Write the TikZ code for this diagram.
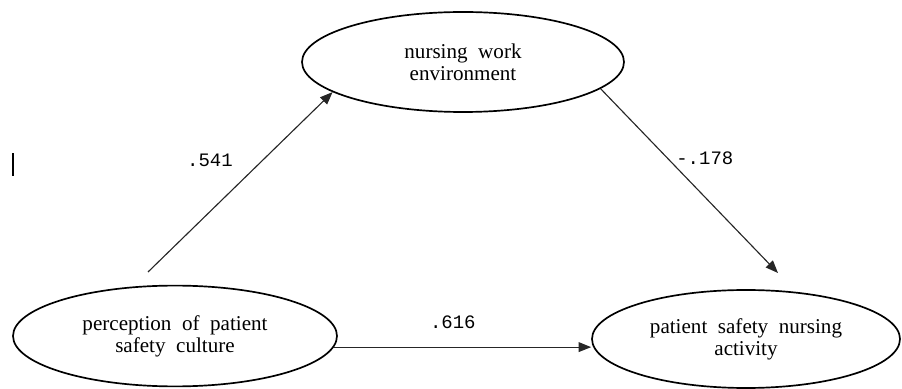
\documentclass[tikz,border=0pt]{standalone}
\usepackage{fontspec}
\setmainfont{Liberation Serif}
\newfontfamily\numfont{Liberation Mono}
\usepackage{tikz}
\usetikzlibrary{shapes,arrows.meta}
\def\coef#1#2#3{\node[coef] (#1) at (#2) {#3}}
\tikzstyle{var}=[ellipse,draw,line width=1.2pt,inner sep=0pt,align=center,font=\fontsize{15}{15.5}\selectfont]
\tikzstyle{coef}=[font=\numfont\fontsize{13.5}{14}\selectfont,inner sep=1pt]
\tikzstyle{path}=[-{Triangle[length=9pt,width=7pt]},line width=0.8pt,black!85]

\begin{document}
\begin{tikzpicture}
    \useasboundingbox (0,0) rectangle (22.55,9.7);
    % latent variables
    \node[var,minimum width=8.05cm,minimum height=2.5cm] (nwe) at (11.575,8.15) {nursing\ \ work\\environment};
    \node[var,minimum width=8.1cm,minimum height=2.52cm] (pps) at (4.375,1.3) {perception\ \ of\ \ patient\\safety\ \ culture};
    \node[var,minimum width=7.7cm,minimum height=2.45cm] (psna) at (18.65,1.225) {patient\ \ safety\ \ nursing\\activity};
    \coordinate (from541) at (3.7,2.9);
    \coordinate (to178) at (19.45,2.875);
    % paths
    \draw[path] (from541) -- (nwe.193);
    \draw[path] (nwe.-11) -- (to178);
    \draw[path] (pps.-4) -- (pps.-4 -| psna.west);
    \coef{c541}{5.25,5.7}{.541};
    \coef{c178}{17.62,5.75}{-.178};
    \coef{c616}{11.32,1.65}{.616};
    % stray mark
    \draw[line width=1.5pt] (0.33,5.87) coordinate (mk1) -- (0.33,5.3) coordinate (mk2);
  \end{tikzpicture}
\end{document}
